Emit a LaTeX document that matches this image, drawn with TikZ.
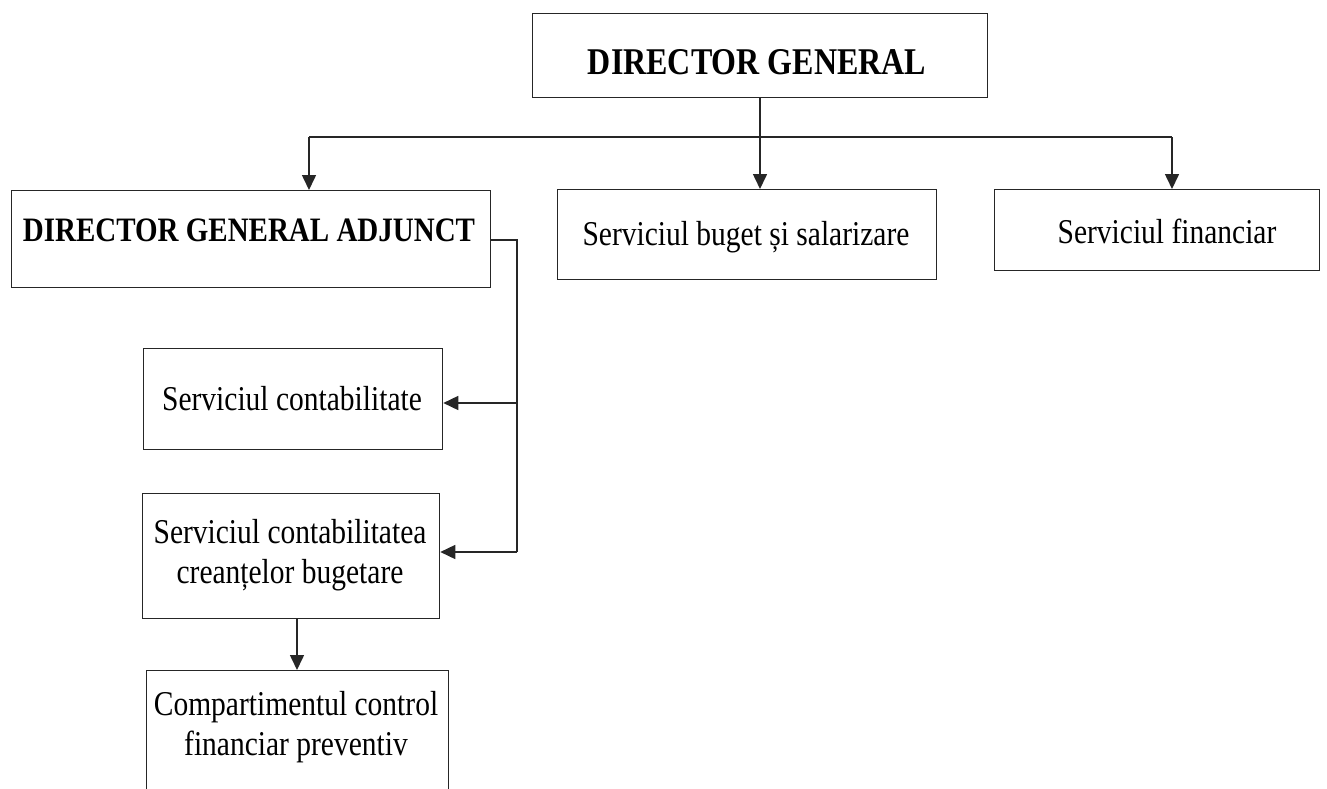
\documentclass[tikz,border=0pt]{standalone}
\usepackage{fontspec}
\setmainfont{Liberation Serif}
\usetikzlibrary{arrows.meta}
\newcommand\vstr[1]{\scalebox{1}[1.18]{#1}}
\tikzset{
  box/.style={draw=black!85, line width=1.3pt, inner sep=0pt, anchor=north west},
  conn/.style={draw=black!85, line width=1.6pt},
  arr/.style={conn, -{Triangle[length=15pt,width=14pt]}},
  bigt/.style={font=\fontsize{32}{36}\selectfont\bfseries, anchor=base, inner sep=0pt},
  midt/.style={font=\fontsize{29}{34}\selectfont\bfseries, anchor=base, inner sep=0pt},
  txt/.style={font=\fontsize{29.5}{40}\selectfont, anchor=base, inner sep=0pt, align=center},
}
\begin{document}
\begin{tikzpicture}[x=1pt,y=-1pt]
\useasboundingbox (0,0) rectangle (1327,789);
% boxes
\node[box, minimum width=455pt, minimum height=84pt] (dg) at (532,13) {};
\node[box, minimum width=479pt, minimum height=97pt] (dga) at (11,190) {};
\node[box, minimum width=379pt, minimum height=90pt] (bug) at (557,189) {};
\node[box, minimum width=325pt, minimum height=81pt] (fin) at (994,189) {};
\node[box, minimum width=299pt, minimum height=101pt] (con) at (143,348) {};
\node[box, minimum width=297pt, minimum height=125pt] (cre) at (142,493) {};
\node[box, minimum width=302pt, minimum height=130pt] (cmp) at (146,670) {};
% texts
\node[bigt] (dgt) at (757,75) {\vstr{DIRECTOR GENERAL}};
\node[midt] (dgat) at (249,241) {\vstr{DIRECTOR GENERAL ADJUNCT}};
\node[txt] (bugt) at (746,245) {\vstr{Serviciul buget și salarizare}};
\node[txt] (fint) at (1167,243) {\vstr{Serviciul financiar}};
\node[txt] (cont) at (292,410) {\vstr{Serviciul contabilitate}};
\node[txt] (cret) at (290,583) {\vstr{Serviciul contabilitatea}\\\vstr{creanțelor bugetare}};
\node[txt] (cmpt) at (296,755) {\vstr{Compartimentul control}\\\vstr{financiar preventiv}};
% connectors
\coordinate (busL) at (309,137);
\coordinate (busR) at (1172,137);
\draw[conn] (busL) -- (busR);
\draw[arr] (dg.south -| 760,0) -- (bug.north -| 760,0);
\draw[arr] (busL) -- (busL |- dga.north);
\draw[arr] (busR) -- (busR |- fin.north);
\coordinate (vtop) at (517,240);
\coordinate (vbot) at (517,552);
\draw[conn] (dga.east |- vtop) -- (vtop) -- (vbot);
\draw[arr] (vtop |- 0,403) -- (con.east |- 0,403);
\draw[arr] (vbot) -- (vbot -| cre.east);
\draw[arr] (cre.south -| 297,0) -- (cmp.north -| 297,0);
\end{tikzpicture}
\end{document}
